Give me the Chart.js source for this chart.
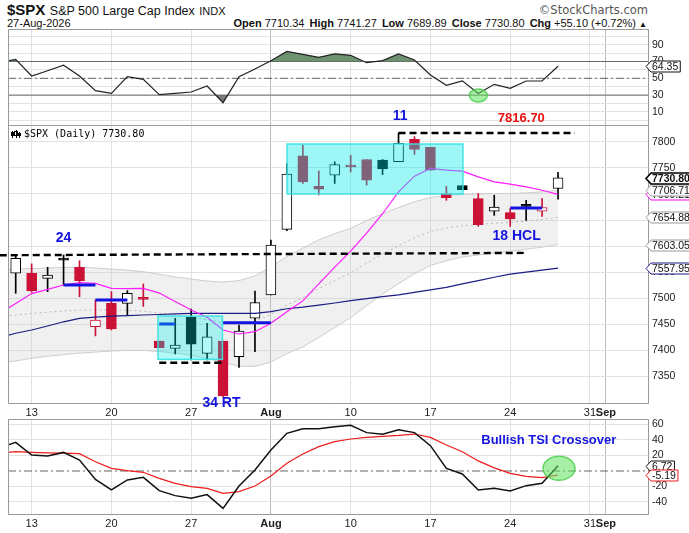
<!DOCTYPE html>
<html lang="en">
<head>
<meta charset="UTF-8" />
<title>$SPX S&amp;P 500 Large Cap Index</title>
<script src="https://cdn.jsdelivr.net/npm/chart.js"></script>
<style>
  body { margin: 0; background: #fff; width: 689px; height: 533px; position: relative; overflow: hidden;
         font-family: "Liberation Sans", Arial, sans-serif; color: #111; }
  canvas { position: absolute; left: 0; }
  .hdr { position: absolute; white-space: nowrap; }
  .ohlc b { font-weight: bold; }
  .ohlc span { margin-left: 2px; }
</style>
</head>
<body>

<!-- header -->
<div class="hdr" style="left:7px; top:1px; line-height:18px;">
  <b style="font-size:15px;">$SPX</b>
  <span style="font-size:12.5px;">S&amp;P 500 Large Cap Index</span>
  <span style="font-size:11px;">INDX</span>
</div>
<div class="hdr" style="left:7px; top:17px; font-size:11px; line-height:13px;">27-Aug-2026</div>
<div class="hdr" style="right:41px; top:3px; font-size:11.5px; color:#555; line-height:14px; font-family:'DejaVu Sans', sans-serif;">&copy;StockCharts.com</div>
<div class="hdr ohlc" style="right:42px; top:17px; font-size:11px; line-height:13px;">
  <b>Open</b> 7710.34 <span><b>High</b> 7741.27</span> <span><b>Low</b> 7689.89</span>
  <span><b>Close</b> 7730.80</span> <span><b>Chg</b> +55.10 (+0.72%) <small style="font-size:8px;">&#9650;</small></span>
</div>

<canvas id="rsi" width="689" height="97" style="top:29px;"></canvas>
<canvas id="main" width="689" height="318" style="top:100px;"></canvas>
<canvas id="tsi" width="689" height="115" style="top:418px;"></canvas>

<script>
    // trading days, Jul 9 is only there so the lines run off the left edge
    const days = ['Jul 9', 'Jul 10', 'Jul 13', 'Jul 14', 'Jul 15', 'Jul 16', 'Jul 17', 'Jul 20', 'Jul 21',
        'Jul 22', 'Jul 23', 'Jul 24', 'Jul 27', 'Jul 28', 'Jul 29', 'Jul 30', 'Jul 31', 'Aug 3', 'Aug 4',
        'Aug 5', 'Aug 6', 'Aug 7', 'Aug 10', 'Aug 11', 'Aug 12', 'Aug 13', 'Aug 14', 'Aug 17', 'Aug 18',
        'Aug 19', 'Aug 20', 'Aug 21', 'Aug 24', 'Aug 25', 'Aug 26', 'Aug 27'];

    const open = [null, 7548, 7548, 7538.3, 7574, 7559.4, 7445.6, 7490.4, 7490.4, 7499, 7418, 7404.2, 7463.6,
        7394.6, 7418, 7388, 7461.7, 7506.3, 7632, 7773, 7714.7, 7736, 7752.5, 7766, 7764.7, 7762, 7804.5, 7789,
        7700.6, 7716, 7691, 7666.7, 7664, 7677, 7667, 7710.34];
    const high = [null, 7583, 7566, 7559.4, 7583, 7572, 7496.8, 7512.7, 7514.7, 7527.4, 7418, 7461.7, 7479.5,
        7452, 7418, 7448.8, 7514, 7611.7, 7758, 7793.6, 7744, 7761.5, 7774, 7766, 7766, 7816.7, 7809.6, 7789,
        7714.7, 7716, 7700.6, 7697.4, 7672, 7687.8, 7691, 7741.27];
    const low = [null, 7509.6, 7511.5, 7512.7, 7525.5, 7503, 7428, 7439.3, 7467.6, 7484.5, 7405.4, 7393.3, 7381.8,
        7381.8, 7311, 7367.8, 7397.7, 7506.3, 7629.5, 7720, 7698, 7720, 7742, 7716.7, 7737, 7762, 7775.6, 7745.5,
        7687.8, 7708.3, 7637.8, 7659, 7637.8, 7649.4, 7657, 7689.89];
    const close = [null, 7576.6, 7514, 7544.6, 7573, 7533.8, 7458.4, 7441.2, 7509.6, 7498, 7405.4, 7410.5, 7412,
        7426.4, 7312.8, 7437.4, 7491.6, 7602, 7738, 7723, 7709, 7756.4, 7751.5, 7726.3, 7748, 7796.8, 7785, 7745.5,
        7693, 7708.3, 7641, 7675, 7652, 7676, 7674, 7730.80];

    const bbUpper = [7553, 7556, 7557, 7558, 7559, 7559.5, 7558, 7556, 7554, 7551, 7546, 7541, 7537, 7533, 7531,
        7534, 7543, 7560, 7580, 7596, 7612, 7624, 7634, 7649, 7662, 7674, 7685, 7693, 7697, 7699, 7700, 7700.5,
        7701, 7702, 7704, 7706.71];
    const bbMid = [7464.5, 7468, 7471, 7473.5, 7475.5, 7477.25, 7477.5, 7477.5, 7477, 7475.5, 7472, 7468, 7464,
        7459, 7454, 7452, 7456.25, 7469, 7487, 7501.5, 7518.5, 7534, 7548.5, 7567.5, 7585, 7601, 7616, 7628,
        7634.5, 7639, 7641.5, 7643.75, 7645.5, 7648, 7651, 7654.88];
    const bbLower = [7376, 7380, 7385, 7389, 7392, 7395, 7397, 7399, 7400, 7400, 7398, 7395, 7391, 7385, 7377,
        7370, 7369.5, 7378, 7394, 7407, 7425, 7444, 7463, 7486, 7508, 7528, 7547, 7563, 7572, 7579, 7583, 7587,
        7590, 7594, 7598, 7603.05];
    const maFast = [7471, 7490, 7509, 7517, 7525.5, 7530, 7528.7, 7519, 7518.5, 7519, 7510, 7494, 7477.6, 7463.6,
        7439.3, 7431.6, 7436, 7452, 7474.4, 7495, 7527.6, 7559.6, 7590.4, 7625, 7662, 7704, 7734, 7748.7, 7745.5,
        7743.6, 7732.7, 7723, 7718.6, 7713.5, 7707, 7699.21];
    const maSlow = [7425, 7433, 7439.3, 7447, 7455, 7461.7, 7464, 7466, 7467, 7468, 7469, 7470, 7471, 7471, 7471,
        7471, 7471, 7474.4, 7480, 7483, 7487, 7491, 7495.5, 7499.4, 7503.2, 7506.4, 7511.5, 7516, 7521, 7527.6,
        7534, 7540.4, 7546.2, 7550, 7553.8, 7557.95];

    const rsi = [68.6, 72.6, 52.7, 59, 65.5, 52.7, 35.3, 32.1, 52, 48.8, 30.5, 32, 33.7, 40.8, 21, 52, 61, 71, 82,
        78.5, 75, 79, 77.4, 68.6, 71, 79, 71.8, 54, 41.7, 47, 32, 42.8, 38, 46.8, 46.8, 64.35];
    const rsiLevels = [70, 50, 30];

    const tsi = [30, 37, 20.6, 19.4, 24, 14.2, -10.8, -24.5, -11.6, -8.2, -25.4, -31.8, -35.3, -30.5, -48.2, -19.4,
        1.3, 27, 48.6, 54.6, 54.6, 57.2, 58.9, 49.5, 47.3, 53.3, 49.5, 32.7, 3.4, -3.9, -24.5, -22.4, -25.8, -18.9,
        -15.9, 6.72];
    const tsiSignal = [23, 24.9, 24, 23.5, 23, 22.4, 12, 3.4, 0.4, -1.7, -9.5, -15.9, -20.2, -22.4, -28.8, -26.7,
        -19.4, -6.5, 9.9, 21.9, 31.4, 37.8, 41.3, 43.4, 44.8, 46, 47.7, 43.4, 33.5, 24.9, 13, 4, -3, -7, -8.5, -5.19];

    // axis ticks (x is the position in days[], extended past Aug 27)
    const tickPos = [2, 7, 12, 17, 22, 27, 32, 37, 38];
    const tickText = ['13', '20', '27', 'Aug', '10', '17', '24', '31', 'Sep'];
    const monthPos = [17, 38];
    const priceTicks = [7350, 7400, 7450, 7500, 7550, 7600, 7650, 7700, 7750, 7800];
    const rsiTicks = [0, 10, 20, 30, 40, 50, 60, 70, 80, 90, 100];
    const tsiTicks = [-40, -20, 0, 20, 40, 60];

    // annotations, in data units
    const dashFrom = [0, 25, 10], dashTo = [33.02, 36.05, 14];
    const dashStart = [7582.5, 7816.7, 7376.6], dashEnd = [7587, 7816.7, 7376.6];
    const pivotFrom = [4, 6, 10, 14, 32], pivotTo = [6, 8, 11, 17, 34];
    const pivotLevel = [7525.5, 7496.8, 7450.8, 7453.3, 7673];
    const boxFrom = [9.92, 18.01], boxTo = [13.96, 29.04];
    const boxLow = [7383, 7699.8], boxHigh = [7466, 7795.6];
    const noteText = ['24', '11', '7816.70', '18 HCL', '34 RT'];
    const noteX = [4, 25.1, 32.7, 32.4, 13.9];
    const noteY = [7615, 7849.6, 7844.8, 7619.7, 7299.4];

    const FONT = '"Liberation Sans", Arial, sans-serif';
    const RED = '#cc1137', BLACK = '#000';
    const BLUE = '#1414e0';
    const xMin = 0.517, xMax = 40.64;

    const pts = arr => arr.map((v, j) => ({ x: j, y: v }));
    const seg = (x0, x1, y0, y1) => [{ x: x0, y: y0 }, { x: x1, y: y1 }];
    const candleColor = j => (j > 1 && close[j] < close[j - 1]) ? RED : BLACK;
    const isHollow = j => close[j] >= open[j];

    function xScale(showLabels, axisHeight) {
        return {
            type: 'linear', min: xMin, max: xMax, offset: false,
            afterBuildTicks: s => { s.ticks = tickPos.map(v => ({ value: v })); },
            afterFit: s => { s.height = axisHeight; s.paddingLeft = 0; s.paddingRight = 0; },
            grid: {
                drawTicks: false, offset: false,
                color: c => (c.tick && monthPos.includes(c.tick.value)) ? '#bcbcbc' : '#e2e2e2'
            },
            border: { display: false },
            ticks: {
                display: showLabels, autoSkip: false, maxRotation: 0, padding: 2, color: '#222',
                font: c => ({ family: FONT, size: 11,
                    weight: (c.tick && monthPos.includes(c.tick.value)) ? 'bold' : 'normal' }),
                callback: v => tickText[tickPos.indexOf(v)] ?? ''
            }
        };
    }

    function yScale(min, max, ticks, label, gridColor) {
        return {
            position: 'right', min: min, max: max,
            afterBuildTicks: s => { s.ticks = ticks.map(v => ({ value: v })); },
            afterFit: s => { s.width = 41; s.paddingTop = 0; s.paddingBottom = 0; },
            grid: { drawTicks: false, color: gridColor || '#e2e2e2' },
            border: { display: false },
            ticks: { autoSkip: false, padding: 4, color: '#222', font: { family: FONT, size: 10.5 }, callback: label }
        };
    }

    function drawFrame(chart, skipTop) {
        const a = chart.chartArea, ctx = chart.ctx;
        ctx.save();
        ctx.strokeStyle = '#9a9a9a';
        ctx.lineWidth = 1;
        ctx.beginPath();
        const l = Math.round(a.left) + 0.5, r = Math.round(a.right) + 0.5;
        const t = Math.round(a.top) + 0.5, b = Math.round(a.bottom) - 0.5;
        ctx.moveTo(l, skipTop ? t - 1 : t);
        ctx.lineTo(l, b); ctx.lineTo(r, b); ctx.lineTo(r, skipTop ? t - 1 : t);
        if (!skipTop) ctx.lineTo(l, t);
        ctx.stroke();
        ctx.restore();
    }

    function drawTag(chart, value, border, bold) {
        const ctx = chart.ctx;
        const y = Math.round(chart.scales.y.getPixelForValue(value)) + 0.5;
        const text = value.toFixed(2);
        const x0 = chart.chartArea.right - 2, x1 = x0 + 5, h = 5.5;
        ctx.save();
        ctx.font = (bold ? 'bold ' : '') + '10.5px ' + FONT;
        const x2 = x1 + ctx.measureText(text).width + 3;
        ctx.beginPath();
        ctx.moveTo(x0, y);
        ctx.lineTo(x1, y - h); ctx.lineTo(x2, y - h); ctx.lineTo(x2, y + h); ctx.lineTo(x1, y + h);
        ctx.closePath();
        ctx.fillStyle = '#fff';
        ctx.fill();
        ctx.lineWidth = bold ? 1.6 : 1;
        ctx.strokeStyle = border;
        ctx.stroke();
        ctx.fillStyle = '#111';
        ctx.textBaseline = 'middle';
        ctx.textAlign = 'left';
        ctx.fillText(text, x1 + 1, y + 0.5);
        ctx.restore();
    }

    function drawEllipse(chart, xv, yv, rx, ry) {
        const ctx = chart.ctx;
        const cx = chart.scales.x.getPixelForValue(xv), cy = chart.scales.y.getPixelForValue(yv);
        ctx.save();
        ctx.beginPath();
        ctx.ellipse(cx, cy, rx, ry, 0, 0, Math.PI * 2);
        ctx.fillStyle = 'rgba(95, 225, 95, 0.55)';
        ctx.fill();
        ctx.lineWidth = 1.5;
        ctx.strokeStyle = 'rgba(70, 205, 70, 0.8)';
        ctx.stroke();
        ctx.restore();
    }

    const baseOptions = {
        responsive: false,
        animation: false,
        events: [],
        plugins: { legend: { display: false }, tooltip: { enabled: false } }
    };

    // ---------- RSI panel ----------
    new Chart(document.getElementById('rsi'), {
        type: 'line',
        data: {
            datasets: [
                { data: pts(rsi), borderColor: '#222', borderWidth: 1.2, pointRadius: 0,
                  fill: { target: { value: 70 }, above: '#6e9270', below: 'rgba(0,0,0,0)' }, order: 1 },
                { data: pts(rsi), borderWidth: 0, borderColor: 'rgba(0,0,0,0)', pointRadius: 0,
                  fill: { target: { value: 30 }, above: 'rgba(0,0,0,0)', below: '#7c7c7c' }, order: 3 },
                ...rsiLevels.map(v => ({
                    data: seg(xMin, xMax, v, v), borderColor: '#666', borderWidth: 1, pointRadius: 0,
                    borderDash: v === 50 ? [8, 3, 2, 3] : [], fill: false, order: 2
                }))
            ]
        },
        options: {
            ...baseOptions,
            layout: { padding: { left: 8, top: 0, right: 0, bottom: 0 } },
            scales: {
                x: xScale(false, 0),
                y: yScale(-6.8, 108.7, rsiTicks, v => (v % 20 === 10 ? String(v) : ''))
            }
        },
        plugins: [{
            id: 'rsiDeco',
            afterDraw(chart) {
                drawFrame(chart, false);
                drawEllipse(chart, 30, 29.5, 9, 6.5);
                drawTag(chart, rsi[rsi.length - 1], '#111', false);
            }
        }]
    });

    // ---------- price panel ----------
    const tradeIdx = days.map((d, j) => j).filter(j => open[j] !== null);
    const wicks = tradeIdx.map(j => ({ x: j, y: [low[j], high[j]] }));
    const bodies = tradeIdx.map(j => ({ x: j, y: [open[j], close[j]] }));

    const mainSets = [
        { type: 'line', data: pts(bbUpper), borderColor: '#cdcdcd', borderWidth: 1, pointRadius: 0,
          fill: '+1', backgroundColor: 'rgba(200,200,200,0.28)', order: 20 },
        { type: 'line', data: pts(bbLower), borderColor: '#cdcdcd', borderWidth: 1, pointRadius: 0,
          fill: false, order: 19 },
        { type: 'line', data: pts(bbMid), borderColor: '#b9b9b9', borderWidth: 1, borderDash: [2, 3],
          pointRadius: 0, fill: false, order: 18 },
        { type: 'bar', data: wicks, grouped: false, barThickness: 1, borderWidth: 0,
          backgroundColor: c => candleColor(c.raw.x), order: 15 },
        { type: 'bar', data: bodies, grouped: false, barThickness: 10, minBarLength: 2,
          borderWidth: 1, borderSkipped: false,
          borderColor: c => candleColor(c.raw.x),
          backgroundColor: c => isHollow(c.raw.x) ? '#fff' : candleColor(c.raw.x), order: 14 },
        { type: 'line', data: pts(maSlow), borderColor: '#1c1c84', borderWidth: 1.2, pointRadius: 0,
          fill: false, order: 10 },
        { type: 'line', data: pts(maFast), borderColor: '#ff1cff', borderWidth: 1.2, pointRadius: 0,
          fill: false, order: 9 }
    ];
    dashFrom.forEach((x0, i) => mainSets.push({
        type: 'line', data: seg(x0, dashTo[i], dashStart[i], dashEnd[i]), borderColor: '#000',
        borderWidth: 2.4, borderDash: [7, 4], pointRadius: 0, fill: false, clip: false, order: 5
    }));
    pivotFrom.forEach((x0, i) => mainSets.push({
        type: 'line', data: seg(x0, pivotTo[i], pivotLevel[i], pivotLevel[i]), borderColor: BLUE,
        borderWidth: 3, pointRadius: 0, fill: false, order: 4
    }));

    new Chart(document.getElementById('main'), {
        type: 'bar',
        data: { datasets: mainSets },
        options: {
            ...baseOptions,
            layout: { padding: { left: 8, top: 26, right: 0, bottom: 0 } },
            scales: {
                x: xScale(true, 14),
                y: yScale(7297.5, 7830.1, priceTicks, v => String(v))
            }
        },
        plugins: [{
            id: 'mainDeco',
            afterDatasetsDraw(chart) {
                const ctx = chart.ctx, xs = chart.scales.x, ys = chart.scales.y;
                const alpha = [0.3, 0.38];
                ctx.save();
                boxFrom.forEach((b, i) => {
                    const x0 = xs.getPixelForValue(b), x1 = xs.getPixelForValue(boxTo[i]);
                    const y0 = ys.getPixelForValue(boxHigh[i]), y1 = ys.getPixelForValue(boxLow[i]);
                    ctx.fillStyle = 'rgba(0,235,235,' + alpha[i] + ')';
                    ctx.fillRect(x0, y0, x1 - x0, y1 - y0);
                    ctx.strokeStyle = 'rgba(60,225,225,0.95)';
                    ctx.lineWidth = 1.5;
                    ctx.strokeRect(x0, y0, x1 - x0, y1 - y0);
                });
                ctx.restore();
            },
            afterDraw(chart) {
                const ctx = chart.ctx, xs = chart.scales.x, ys = chart.scales.y, a = chart.chartArea;
                drawFrame(chart, true);

                // legend line
                ctx.save();
                ctx.fillStyle = '#000';
                ctx.fillRect(a.left + 4, a.top + 5, 1, 7);
                ctx.fillRect(a.left + 3, a.top + 6, 3, 4);
                ctx.fillRect(a.left + 8, a.top + 4, 1, 8);
                ctx.strokeStyle = '#000';
                ctx.lineWidth = 1;
                ctx.strokeRect(a.left + 6.5, a.top + 5.5, 3, 4);
                ctx.fillRect(a.left + 11, a.top + 6, 1, 6);
                ctx.fillRect(a.left + 10, a.top + 7, 3, 3);
                ctx.font = '10px "DejaVu Sans Mono", monospace';
                ctx.textBaseline = 'middle';
                ctx.fillText('$SPX (Daily) 7730.80', a.left + 16, a.top + 8.5);

                // notes
                ctx.textAlign = 'center';
                noteText.forEach((t, i) => {
                    const red = t === '7816.70';
                    ctx.font = 'bold ' + (red ? 13 : 14) + 'px ' + FONT;
                    ctx.fillStyle = red ? '#ee1111' : BLUE;
                    ctx.fillText(t, xs.getPixelForValue(noteX[i]), ys.getPixelForValue(noteY[i]));
                });
                ctx.restore();

                // price tags on the axis
                drawTag(chart, maFast[maFast.length - 1], '#ff00ff', false);
                drawTag(chart, bbUpper[bbUpper.length - 1], '#9a9a9a', false);
                drawTag(chart, bbMid[bbMid.length - 1], '#9a9a9a', false);
                drawTag(chart, bbLower[bbLower.length - 1], '#9a9a9a', false);
                drawTag(chart, maSlow[maSlow.length - 1], '#1c1c84', false);
                drawTag(chart, close[close.length - 1], '#000', true);
            }
        }]
    });

    // ---------- TSI panel ----------
    new Chart(document.getElementById('tsi'), {
        type: 'line',
        data: {
            datasets: [
                { data: seg(xMin, xMax, 0, 0), borderColor: '#666', borderWidth: 1, borderDash: [8, 3, 2, 3],
                  pointRadius: 0, fill: false, order: 3 },
                { data: pts(tsiSignal), borderColor: '#ee1c1c', borderWidth: 1.2, pointRadius: 0, fill: false, order: 2 },
                { data: pts(tsi), borderColor: '#111', borderWidth: 1.5, pointRadius: 0, fill: false, order: 1 }
            ]
        },
        options: {
            ...baseOptions,
            layout: { padding: { left: 8, top: 1, right: 0, bottom: 0 } },
            scales: {
                x: xScale(true, 18),
                y: yScale(-56.8, 67.1, tsiTicks, v => (v === 0 ? '' : String(v)),
                    c => (c.tick && c.tick.value === 0) ? 'rgba(0,0,0,0)' : '#e2e2e2')
            }
        },
        plugins: [{
            id: 'tsiDeco',
            afterDraw(chart) {
                const ctx = chart.ctx;
                drawFrame(chart, false);
                drawEllipse(chart, 35.06, 3.5, 16, 12);
                ctx.save();
                ctx.font = 'bold 13px ' + FONT;
                ctx.fillStyle = BLUE;
                ctx.textAlign = 'center';
                ctx.textBaseline = 'middle';
                ctx.fillText('Bullish TSI Crossover', chart.scales.x.getPixelForValue(34.42),
                    chart.scales.y.getPixelForValue(40));
                ctx.restore();
                drawTag(chart, tsi[tsi.length - 1], '#111', false);
                drawTag(chart, tsiSignal[tsiSignal.length - 1], '#ee1c1c', false);
            }
        }]
    });
</script>
</body>
</html>
